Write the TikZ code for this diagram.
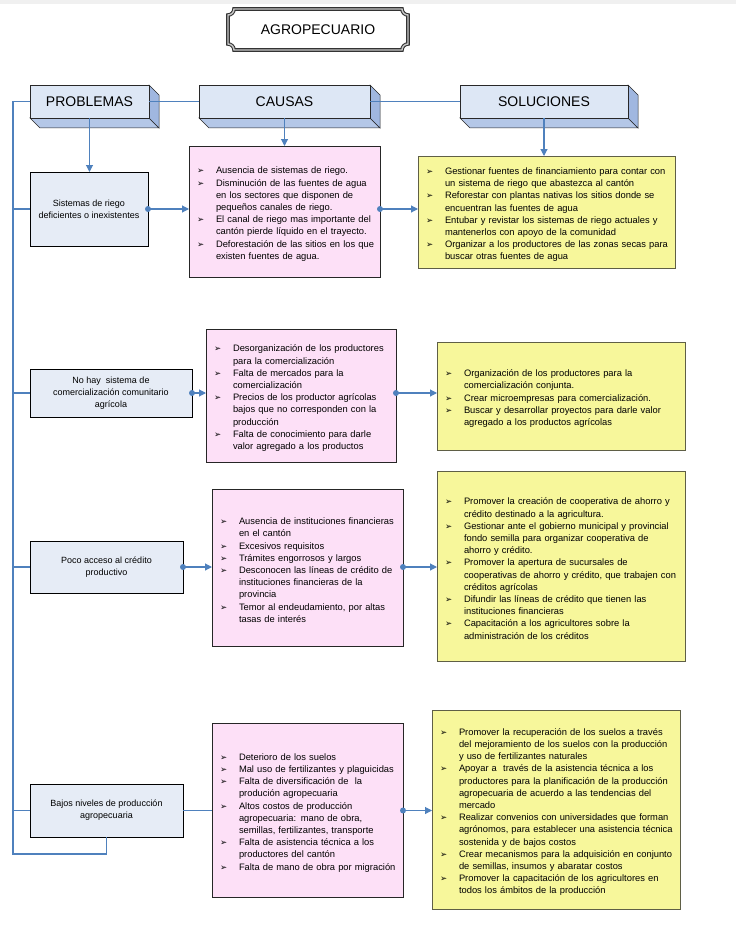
\documentclass[tikz,border=0pt]{standalone}
\usepackage{fontspec}
\setmainfont{Liberation Sans}
\newfontfamily\dejavu{DejaVu Sans}
\usetikzlibrary{arrows.meta}
\definecolor{probfill}{RGB}{230,236,246}
\definecolor{pinkfill}{RGB}{253,224,247}
\definecolor{yelfill}{RGB}{247,247,155}
\definecolor{yeledge}{RGB}{95,95,70}
\definecolor{connblue}{RGB}{79,129,189}
\definecolor{hdrfront}{RGB}{221,231,245}
\definecolor{hdrbot}{RGB}{180,199,231}
\definecolor{hdrside}{RGB}{160,183,224}
\definecolor{hdredge}{RGB}{40,40,40}
\definecolor{topgray}{RGB}{240,240,240}
\newcommand{\bul}{{\dejavu\fontsize{8.5}{8.5}\selectfont ➢}}
\newcommand{\bl}[1]{\par\noindent\hangindent=24pt\hangafter=1\hspace*{5pt}\makebox[19pt][l]{\bul}\mbox{#1}}
\newcommand{\cl}[1]{\hfil\break\mbox{#1}}
\tikzset{
  boxtext/.style={font=\fontsize{9.35}{12.2}\selectfont},
  prob/.style={font=\fontsize{9}{12.2}\selectfont, draw=black, fill=probfill, line width=0.8pt, align=center, inner sep=0pt, outer sep=0pt, anchor=north west},
  cause/.style={boxtext, draw=black!85, fill=pinkfill, line width=0.8pt, align=left, inner xsep=3pt, inner ysep=0pt, outer sep=0pt, anchor=north west},
  sol/.style={boxtext, draw=yeledge, fill=yelfill, line width=0.8pt, align=left, inner xsep=3pt, inner ysep=0pt, outer sep=0pt, anchor=north west},
  hdr/.style={draw=hdredge, fill=hdrfront, line width=0.6pt, font=\fontsize{14}{16}\selectfont, inner sep=0pt, outer sep=0pt, anchor=north west},
  conn/.style={draw=connblue, line width=1.1pt},
  arr/.style={conn, -{Triangle[length=7pt,width=7pt]}},
  dot/.style={fill=connblue}
}
\newcommand{\hdrbox}[6]{%
  \filldraw[fill=hdrbot, draw=hdredge, line width=0.5pt] (#2,#3+#5) -- (#2+#4,#3+#5) -- (#2+#4+10,#3+#5+10) -- (#2+10,#3+#5+10) -- cycle;
  \filldraw[fill=hdrside, draw=hdredge, line width=0.5pt] (#2+#4,#3) -- (#2+#4+10,#3+10) -- (#2+#4+10,#3+#5+10) -- (#2+#4,#3+#5) -- cycle;
  \node[hdr, minimum width=#4 pt, minimum height=#5 pt] (#1) at (#2,#3) {#6};}
\begin{document}
\begin{tikzpicture}[x=1pt,y=-1pt]
\useasboundingbox (0,0) rectangle (736,931);
\fill[topgray] (0,0) rectangle (736,4);
% title
\draw[line width=1.4pt, gray!45, preaction={draw=black!80, line width=3.6pt}]
  (228,15) arc[start angle=90,end angle=0,radius=6] -- (402,9)
  arc[start angle=180,end angle=90,radius=6] -- (408,44)
  arc[start angle=-90,end angle=-180,radius=6] -- (234,50)
  arc[start angle=0,end angle=-90,radius=6] -- cycle;
\node[font=\fontsize{14}{16}\selectfont] (title) at (318,29.5) {AGROPECUARIO};
% headers
\hdrbox{hP}{30}{85}{119}{33}{PROBLEMAS}
\hdrbox{hC}{199}{85}{171}{33}{CAUSAS}
\hdrbox{hS}{460}{85}{168}{33}{SOLUCIONES}
% problem boxes
\node[prob, minimum width=118pt, minimum height=74pt] (p1) at (30,172) {Sistemas de riego\\deficientes o inexistentes};
\node[prob, minimum width=162pt, minimum height=48pt] (p2) at (30,369) {No hay~ sistema de\\comercialización comunitario\\agrícola};
\node[prob, minimum width=153pt, minimum height=52pt] (p3) at (30,541) {Poco acceso al crédito\\productivo};
\node[prob, minimum width=153pt, minimum height=53pt] (p4) at (30,784) {Bajos niveles de producción\\agropecuaria};
% causes
\node[cause, text width=185pt, minimum height=131pt] (c1) at (189,146) {%
\bl{Ausencia de sistemas de riego.}
\bl{Disminución de las fuentes de agua}\cl{en los sectores que disponen de}\cl{pequeños canales de riego.}
\bl{El canal de riego mas importante del}\cl{cantón pierde líquido en el trayecto.}
\bl{Deforestación de las sitios en los que}\cl{existen fuentes de agua.}\par\vspace*{16pt}};
\node[cause, text width=184pt, minimum height=133pt] (c2) at (206,329) {%
\bl{Desorganización de los productores}\cl{para la comercialización}
\bl{Falta de mercados para la}\cl{comercialización}
\bl{Precios de los productor agrícolas}\cl{bajos que no corresponden con la}\cl{producción}
\bl{Falta de conocimiento para darle}\cl{valor agregado a los productos}\par};
\node[cause, text width=185pt, minimum height=157pt] (c3) at (212,489) {%
\bl{Ausencia de instituciones financieras}\cl{en el cantón}
\bl{Excesivos requisitos}
\bl{Trámites engorrosos y largos}
\bl{Desconocen las líneas de crédito de}\cl{instituciones financieras de la}\cl{provincia}
\bl{Temor al endeudamiento, por altas}\cl{tasas de interés}\par};
\node[cause, text width=185pt, minimum height=174pt] (c4) at (212,723) {%
\bl{Deterioro de los suelos}
\bl{Mal uso de fertilizantes y plaguicidas}
\bl{Falta de diversificación de~ la}\cl{produción agropecuaria}
\bl{Altos costos de producción}\cl{agropecuaria: mano de obra,}\cl{semillas, fertilizantes, transporte}
\bl{Falta de asistencia técnica a los}\cl{productores del cantón}
\bl{Falta de mano de obra por migración}\par};
% solutions
\node[sol, text width=251pt, minimum height=112pt] (s1) at (418,156) {%
\bl{Gestionar fuentes de financiamiento para contar con}\cl{un sistema de riego que abastezca al cantón}
\bl{Reforestar con plantas nativas los sitios donde se}\cl{encuentran las fuentes de agua}
\bl{Entubar y revistar los sistemas de riego actuales y}\cl{mantenerlos con apoyo de la comunidad}
\bl{Organizar a los productores de las zonas secas para}\cl{buscar otras fuentes de agua}\par};
\node[sol, text width=242pt, minimum height=108pt] (s2) at (437,342) {%
\bl{Organización de los productores para la}\cl{comercialización conjunta.}
\bl{Crear microempresas para comercialización.}
\bl{Buscar y desarrollar proyectos para darle valor}\cl{agregado a los productos agrícolas}\par};
\node[sol, text width=242pt, minimum height=190pt] (s3) at (437,471) {%
\bl{Promover la creación de cooperativa de ahorro y}\cl{crédito destinado a la agricultura.}
\bl{Gestionar ante el gobierno municipal y provincial}\cl{fondo semilla para organizar cooperativa de}\cl{ahorro y crédito.}
\bl{Promover la apertura de sucursales de}\cl{cooperativas de ahorro y crédito, que trabajen con}\cl{créditos agrícolas}
\bl{Difundir las líneas de crédito que tienen las}\cl{instituciones financieras}
\bl{Capacitación a los agricultores sobre la}\cl{administración de los créditos}\par};
\node[sol, text width=242pt, minimum height=199pt] (s4) at (432,710) {%
\bl{Promover la recuperación de los suelos a través}\cl{del mejoramiento de los suelos con la producción}\cl{y uso de fertilizantes naturales}
\bl{Apoyar a~ través de la asistencia técnica a los}\cl{productores para la planificación de la producción}\cl{agropecuaria de acuerdo a las tendencias del}\cl{mercado}
\bl{Realizar convenios con universidades que forman}\cl{agrónomos, para establecer una asistencia técnica}\cl{sostenida y de bajos costos}
\bl{Crear mecanismos para la adquisición en conjunto}\cl{de semillas, insumos y abaratar costos}
\bl{Promover la capacitación de los agricultores en}\cl{todos los ámbitos de la producción}\par};
% header connectors
\coordinate (sp1) at (13,101.5);
\coordinate (sp2) at (13,854);
\draw[conn] (hP.east) -- (hC.west);
\draw[conn] (hC.east) -- (hS.west);
\draw[conn] (hP.west) -- (sp1) -- (sp2) -| (p4.south);
\draw[arr] (hP.south) -- (hP.south |- p1.north);
\draw[arr] (hC.south) -- (hC.south |- c1.north);
\draw[arr] (hS.south) -- (hS.south |- s1.north);
% spine branches
\foreach \p in {p1,p2,p3,p4} \draw[conn] (\p.west) -- (\p.west -| sp1);
% rows
\foreach \p/\c/\s in {p1/c1/s1,p2/c2/s2,p3/c3/s3} {
  \draw[arr] (\p.east) -- (\p.east -| \c.west);
  \fill[dot] (\p.east) circle (3pt);
}
\draw[conn] (p4.east) -- (p4.east -| c4.west);
\foreach \p/\c/\s in {p1/c1/s1,p2/c2/s2,p3/c3/s3,p4/c4/s4} {
  \draw[arr] (\p.east -| \c.east) -- (\p.east -| \s.west);
  \fill[dot] (\p.east -| \c.east) circle (3pt);
}
\end{tikzpicture}
\end{document}
